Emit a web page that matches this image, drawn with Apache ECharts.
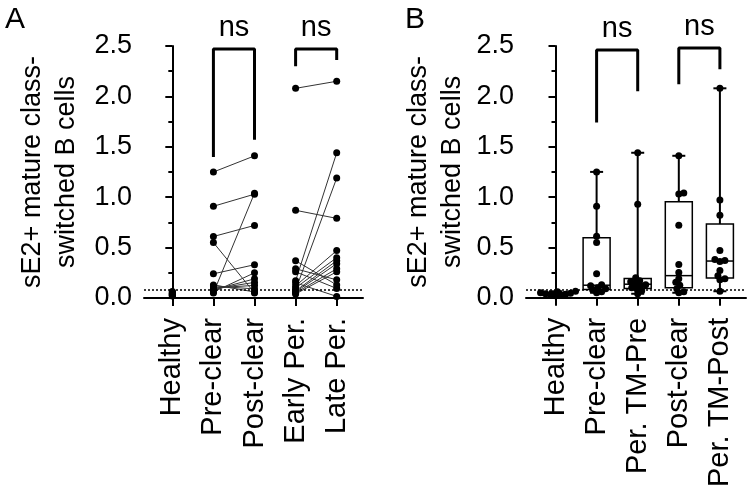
<!DOCTYPE html>
<html>
<head>
<meta charset="utf-8">
<script src="https://cdn.jsdelivr.net/npm/echarts@6/dist/echarts.min.js"></script>
<style>
  html, body { margin: 0; padding: 0; background: #fff; }
  #chart { width: 750px; height: 490px; }
</style>
</head>
<body>
<div id="chart"></div>
<script>
// categories
var groupsA = ["Healthy", "Pre-clear", "Post-clear", "Early Per.", "Late Per."];
var groupsB = ["Healthy", "Pre-clear", "Per. TM-Pre", "Post-clear", "Per. TM-Post"];
var yTicks = [0, 0.5, 1, 1.5, 2, 2.5];
var detectionLimit = 0.08;
var sigLabel = "ns";

// values
var healthy = [0.065, 0.06, 0.05, 0.045, 0.04, 0.035, 0.03, 0.025, 0.02];
// paired: preClear[i] -> postClear[i]
var preClear = [1.25, 0.91, 0.61, 0.55, 0.24, 0.05, 0.06, 0.08, 0.09, 0.10, 0.12, 0.13];
var postClear = [1.41, 1.03, 0.72, 0.05, 0.33, 1.04, 0.25, 0.19, 0.155, 0.125, 0.09, 0.06];
// paired: earlyPer[i] -> latePer[i]
var earlyPer = [2.08, 0.87, 0.37, 0.29, 0.26, 0.17, 0.15, 0.12, 0.10, 0.08, 0.07, 0.06, 0.05, 0.04];
var latePer = [2.15, 0.79, 0.13, 0.18, 0.095, 1.44, 0.016, 0.47, 0.40, 1.19, 0.37, 0.34, 0.29, 0.26];
var perTmPre = [1.44, 0.93, 0.20, 0.17, 0.16, 0.14, 0.13, 0.12, 0.10, 0.09, 0.07, 0.04];
var perTmPost = [2.08, 0.97, 0.82, 0.47, 0.38, 0.37, 0.36, 0.27, 0.22, 0.19, 0.18, 0.065];

// significance brackets: [leftIndex, rightIndex], leg ends, top
var bracketPairs = [[1, 2], [3, 4]];
var bracketLegsA = [[1.40, 1.57], [2.30, 2.36]];
var bracketTopA = [2.47, 2.47];
var bracketLegsB = [[1.74, 2.05], [2.12, 2.27]];
var bracketTopB = [2.46, 2.48];

var FONT = "Liberation Sans, Arial, sans-serif";
var gridA = { left: 144, top: 46, width: 219, height: 252 };
var gridB = { left: 526, top: 46, width: 220, height: 252 };
var xRangeA = [-0.689, 4.64];
var xRangeB = [-0.718, 4.635];

function quantile(sorted, p) {
  var pos = p * (sorted.length + 1);
  if (pos <= 1) return sorted[0];
  if (pos >= sorted.length) return sorted[sorted.length - 1];
  var lo = Math.floor(pos);
  return sorted[lo - 1] + (pos - lo) * (sorted[lo] - sorted[lo - 1]);
}

function boxStats(values, x) {
  var s = values.slice().sort(function (a, b) { return a - b; });
  return [x, s[0], quantile(s, 0.25), quantile(s, 0.5), quantile(s, 0.75), s[s.length - 1]];
}

// simple beeswarm: spread overlapping dots sideways
function swarm(values, x, pxPerX, pxPerY, diam) {
  var placed = [];
  var sorted = values.slice().sort(function (a, b) { return a - b; });
  return sorted.map(function (v) {
    var py = v * pxPerY;
    var off = 0;
    for (var k = 0; k < 60; k++) {
      var cands = k === 0 ? [0] : [k, -k];
      var ok = false;
      for (var c = 0; c < cands.length; c++) {
        var free = placed.every(function (p) {
          var dx = p[0] - cands[c], dy = p[1] - py;
          return dx * dx + dy * dy >= diam * diam;
        });
        if (free) { off = cands[c]; ok = true; break; }
      }
      if (ok) break;
    }
    placed.push([off, py]);
    return [x + off / pxPerX, v];
  });
}

function xAxisFor(idx, range, names) {
  return {
    gridIndex: idx, type: "value", min: range[0], max: range[1],
    splitLine: { show: false },
    axisLine: { show: true, onZero: false, lineStyle: { color: "#000", width: 2 } },
    axisTick: { show: true, length: 8, lineStyle: { color: "#000", width: 2 }, customValues: [0, 1, 2, 3, 4] },
    axisLabel: {
      show: true, rotate: 90, margin: 20, color: "#000", fontSize: 29, fontFamily: FONT,
      customValues: [0, 1, 2, 3, 4],
      formatter: function (v) { return names[Math.round(v)]; }
    }
  };
}

function yAxisFor(idx, gap) {
  return {
    gridIndex: idx, type: "value", min: 0, max: 2.5, interval: 0.5,
    name: "sE2+ mature class-\nswitched B cells",
    nameLocation: "middle", nameRotate: 90, nameGap: gap,
    nameTextStyle: { color: "#000", fontSize: 27, fontFamily: FONT, lineHeight: 34 },
    splitLine: { show: false },
    axisLine: { show: true, lineStyle: { color: "#000", width: 2 } },
    axisTick: { show: true, length: 7, lineStyle: { color: "#000", width: 2 } },
    minorTick: { show: true, splitNumber: 2, length: 4, lineStyle: { color: "#000", width: 2 } },
    axisLabel: {
      color: "#000", fontSize: 27, fontFamily: FONT, margin: 12,
      formatter: function (v) { return v.toFixed(1); }
    }
  };
}

function bracketSeries(idx, legs, tops) {
  var out = [];
  bracketPairs.forEach(function (pair, i) {
    out.push({
      type: "line", xAxisIndex: idx, yAxisIndex: idx, symbol: "none", silent: true,
      lineStyle: { color: "#000", width: 3 },
      data: [[pair[0], legs[i][0]], [pair[0], tops[i]], [pair[1], tops[i]], [pair[1], legs[i][1]]]
    });
    out.push({
      type: "scatter", xAxisIndex: idx, yAxisIndex: idx, symbolSize: 1, silent: true,
      itemStyle: { color: "transparent", opacity: 1 },
      label: { show: true, position: "top", distance: 6, formatter: sigLabel, color: "#000", opacity: 1, fontSize: 29, fontFamily: FONT },
      data: [[(pair[0] + pair[1]) / 2, tops[i]]]
    });
  });
  return out;
}

function dots(idx, data, withLimit) {
  var s = {
    type: "scatter", xAxisIndex: idx, yAxisIndex: idx, symbol: "circle", symbolSize: 7,
    itemStyle: { color: "#000", opacity: 1 }, data: data, z: 5
  };
  if (withLimit) {
    s.markLine = {
      silent: true, symbol: "none", label: { show: false },
      lineStyle: { color: "#000", width: 1.5, type: [2, 2] },
      data: [{ yAxis: detectionLimit }]
    };
  }
  return s;
}

var chart = echarts.init(document.getElementById("chart"));

var pxB = gridB.width / (xRangeB[1] - xRangeB[0]);
var pyB = gridB.height / 2.5;

// panel A
var pairLinesA = [];
preClear.forEach(function (v, i) { pairLinesA.push({ coords: [[1, v], [2, postClear[i]]] }); });
earlyPer.forEach(function (v, i) { pairLinesA.push({ coords: [[3, v], [4, latePer[i]]] }); });

var dotsA = [];
healthy.forEach(function (v) { dotsA.push([0, v]); });
preClear.forEach(function (v) { dotsA.push([1, v]); });
postClear.forEach(function (v) { dotsA.push([2, v]); });
earlyPer.forEach(function (v) { dotsA.push([3, v]); });
latePer.forEach(function (v) { dotsA.push([4, v]); });

// panel B
var groupValuesB = [healthy, preClear, perTmPre, postClear, perTmPost];
var boxesB = groupValuesB.map(function (vals, i) { return boxStats(vals, i); });
var dotsB = [];
groupValuesB.forEach(function (vals, i) {
  dotsB = dotsB.concat(swarm(vals, i, pxB, pyB, 4.5));
});

var option = {
  animation: false,
  backgroundColor: "#fff",
  textStyle: { fontFamily: FONT },
  title: [
    { text: "A", left: 0, top: 0, textStyle: { fontSize: 30, fontWeight: "normal", color: "#000", fontFamily: FONT } },
    { text: "B", left: 400, top: 0, textStyle: { fontSize: 30, fontWeight: "normal", color: "#000", fontFamily: FONT } }
  ],
  grid: [
    { left: gridA.left, top: gridA.top, width: gridA.width, height: gridA.height },
    { left: gridB.left, top: gridB.top, width: gridB.width, height: gridB.height }
  ],
  xAxis: [xAxisFor(0, xRangeA, groupsA), xAxisFor(1, xRangeB, groupsB)],
  yAxis: [yAxisFor(0, 60), yAxisFor(1, 56)],
  series: [
    {
      type: "lines", coordinateSystem: "cartesian2d", xAxisIndex: 0, yAxisIndex: 0, silent: true,
      lineStyle: { color: "#333", width: 1, opacity: 1 }, data: pairLinesA, z: 3
    },
    dots(0, dotsA, true),
    {
      type: "custom", xAxisIndex: 1, yAxisIndex: 1, silent: true, z: 3,
      data: boxesB,
      renderItem: function (params, api) {
        var x = api.value(0);
        var pMin = api.coord([x, api.value(1)]);
        var pQ1 = api.coord([x, api.value(2)]);
        var pMed = api.coord([x, api.value(3)]);
        var pQ3 = api.coord([x, api.value(4)]);
        var pMax = api.coord([x, api.value(5)]);
        var hw = 13.5, cap = 6.5, cx = pMed[0];
        var ws = { stroke: "#000", lineWidth: 2 };
        var bs = { stroke: "#000", lineWidth: 1.5, fill: "none" };
        return {
          type: "group",
          children: [
            { type: "line", shape: { x1: cx, y1: pQ3[1], x2: cx, y2: pMax[1] }, style: ws },
            { type: "line", shape: { x1: cx, y1: pQ1[1], x2: cx, y2: pMin[1] }, style: ws },
            { type: "line", shape: { x1: cx - cap, y1: pMax[1], x2: cx + cap, y2: pMax[1] }, style: ws },
            { type: "line", shape: { x1: cx - cap, y1: pMin[1], x2: cx + cap, y2: pMin[1] }, style: ws },
            { type: "rect", shape: { x: cx - hw, y: pQ3[1], width: 2 * hw, height: pQ1[1] - pQ3[1] }, style: bs },
            { type: "line", shape: { x1: cx - hw, y1: pMed[1], x2: cx + hw, y2: pMed[1] }, style: bs }
          ]
        };
      }
    },
    dots(1, dotsB, true)
  ].concat(bracketSeries(0, bracketLegsA, bracketTopA))
   .concat(bracketSeries(1, bracketLegsB, bracketTopB))
};

chart.setOption(option);
</script>
</body>
</html>
